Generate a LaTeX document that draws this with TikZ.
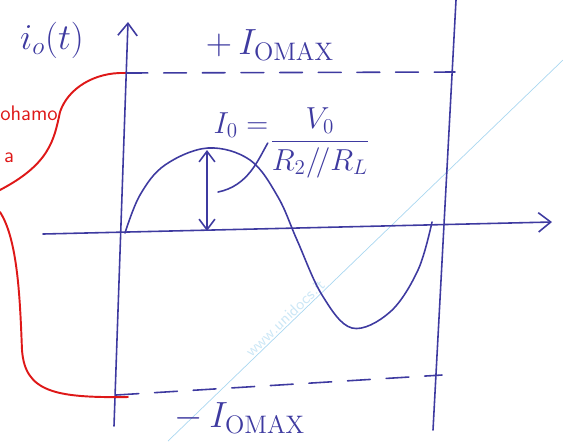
\documentclass[tikz,border=0pt]{standalone}
\usepackage{amsmath}
\usetikzlibrary{arrows.meta}
\definecolor{inkblue}{RGB}{62,58,160}
\definecolor{redpen}{RGB}{222,24,24}
\definecolor{wmark}{RGB}{170,215,240}
\begin{document}
\begin{tikzpicture}[
  x=0.02cm,
  y=-0.02cm,
  ink/.style={
    draw=inkblue,
    line width=0.9pt,
    line cap=round
  },
  barb/.style={
    ink,
    -{Straight Barb[length=7pt,width=11pt]}
  },
  levelline/.style={
    ink,
    dash pattern=on 13pt off 9pt
  },
  redink/.style={
    draw=redpen,
    line width=1.1pt,
    line cap=round
  },
  handlabel/.style={
    text=inkblue,
    font=\LARGE\sffamily,
    inner sep=1pt
  },
  redlabel/.style={
    text=redpen,
    font=\large\sffamily,
    inner sep=1pt
  }
]

\useasboundingbox (0,0) rectangle (563,441);

% watermark
\draw[draw=wmark, line width=0.4pt] (563,60) -- (168,441);
\node[rotate=44, text=wmark!60, font=\small\sffamily] (wm) at (285,318) {www.unidocs.it};

% axes
\coordinate (ybot) at (114,426);
\coordinate (ytop) at (128,22);
\coordinate (xleft) at (43,234);
\coordinate (xright) at (552,222);
\coordinate (rtop) at (456,0);
\coordinate (rbot) at (433,430);

\draw[barb] (ybot) -- (ytop);
\draw[barb] (xleft) -- (xright);
\draw[ink] (rtop) -- (rbot);

% levels
\coordinate (maxl) at (125,73);
\coordinate (maxr) at (455,72);
\coordinate (minl) at (116,395);
\coordinate (minr) at (442,375);
\draw[levelline] (maxl) -- (maxr);
\draw[levelline] (minl) -- (minr);

\node[handlabel, font=\huge] (imax) at (270,45) {$+\,I_{\mathrm{OMAX}}$};
\node[handlabel, font=\huge] (imin) at (240,418) {$-\,I_{\mathrm{OMAX}}$};
\node[handlabel, font=\huge] (ylbl) at (52,40) {$i_o(t)$};

% output current
\coordinate (peak) at (208,148);
\coordinate (trough) at (352,328);
\draw[ink] plot[smooth, tension=0.6] coordinates {
  (125,233) (140,195) (165,165) (peak) (250,160) (278,197)
  (297,240) (322,295) (trough) (390,312) (418,270) (432,222)
};

% amplitude
\coordinate (amptop) at (207,150);
\coordinate (ampbot) at (207,231);
\draw[ink, {Straight Barb[length=6pt,width=9pt]}-{Straight Barb[length=6pt,width=9pt]}] (amptop) -- (ampbot);

\node[handlabel] (iolbl) at (241,125) {$I_0 =$};
\node[handlabel] (frac) at (320,143) {$\dfrac{V_0}{R_2/\!/R_L}$};
\coordinate (lead) at (218,192);
\draw[ink] (lead) .. controls (248,186) and (258,160) .. (frac.west);

% saturation bracket
\draw[redink] (maxl) .. controls (95,72) and (68,88) .. (60,112)
  .. controls (54,140) and (50,165) .. (-4,192);
\draw[redink] (0,212) .. controls (18,240) and (20,300) .. (22,350)
  .. controls (25,392) and (55,398) .. (128,397);
\node[redlabel] (sat) at (29,113) {ohamo};
\node[redlabel] (sata) at (9,158) {a};

\end{tikzpicture}
\end{document}
